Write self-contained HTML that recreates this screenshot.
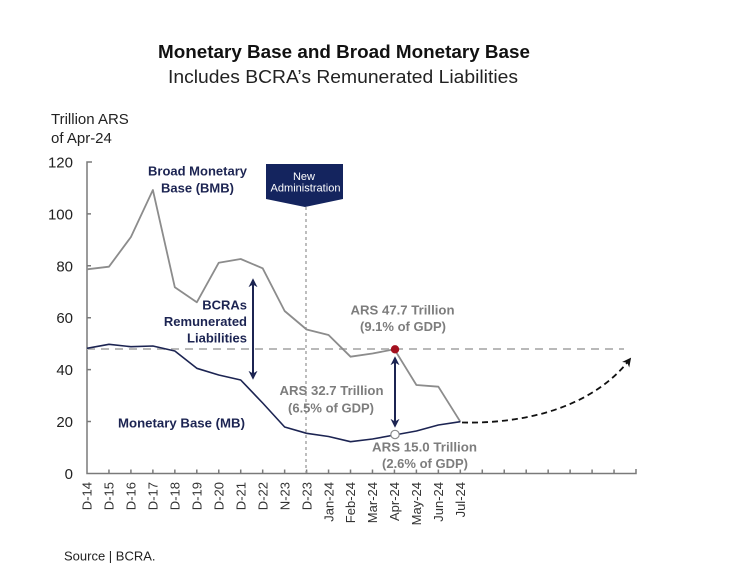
<!DOCTYPE html>
<html><head><meta charset="utf-8"><style>
html,body{margin:0;padding:0;background:#fff;}
svg{display:block;}
text{font-family:"Liberation Sans",Arial,sans-serif;}
</style></head><body>
<svg width="730" height="578" viewBox="0 0 730 578" xmlns="http://www.w3.org/2000/svg">
<defs>
<marker id="ah" viewBox="0 0 10 10" refX="8" refY="5" markerWidth="4.5" markerHeight="4.5" orient="auto-start-reverse">
<path d="M0,0 L10,5 L0,10 L3,5 Z" fill="#1c2452"/>
</marker>
<marker id="ah2" viewBox="0 0 10 10" refX="8" refY="5" markerWidth="5" markerHeight="5" orient="auto">
<path d="M0,0 L10,5 L0,10 L3,5 Z" fill="#111"/>
</marker>
</defs>
<rect width="730" height="578" fill="#fff"/>
<!-- Title -->
<text x="344" y="58" font-size="18" font-weight="bold" text-anchor="middle" fill="#111" textLength="372" lengthAdjust="spacingAndGlyphs">Monetary Base and Broad Monetary Base</text>
<text x="343" y="83" font-size="18" text-anchor="middle" fill="#222" textLength="350" lengthAdjust="spacingAndGlyphs">Includes BCRA’s  Remunerated Liabilities</text>
<!-- Y axis title -->
<text x="51" y="124" font-size="15" fill="#222">Trillion ARS</text>
<text x="51" y="143" font-size="15" fill="#222">of Apr-24</text>
<!-- Y tick labels -->
<g font-size="15" fill="#222" text-anchor="end">
<text x="73" y="167.5">120</text>
<text x="73" y="219.4">100</text>
<text x="73" y="271.3">80</text>
<text x="73" y="323.2">60</text>
<text x="73" y="375.1">40</text>
<text x="73" y="427">20</text>
<text x="73" y="478.9">0</text>
</g>
<!-- Axes -->
<g stroke="#7a7a7a" stroke-width="1.5" fill="none">
<path d="M92,162 L87,162 L87,473.5 L636,473.5 L636,469"/>
<path d="M87,213.9 h4 M87,265.8 h4 M87,317.7 h4 M87,369.6 h4 M87,421.5 h4"/>
<path d="M108.96,473.5 v-4 M130.92,473.5 v-4 M152.88,473.5 v-4 M174.84,473.5 v-4 M196.8,473.5 v-4 M218.76,473.5 v-4 M240.72,473.5 v-4 M262.68,473.5 v-4 M284.64,473.5 v-4 M306.6,473.5 v-4 M328.56,473.5 v-4 M350.52,473.5 v-4 M372.48,473.5 v-4 M394.44,473.5 v-4 M416.4,473.5 v-4 M438.36,473.5 v-4 M460.32,473.5 v-4 M482.28,473.5 v-4 M504.24,473.5 v-4 M526.2,473.5 v-4 M548.16,473.5 v-4 M570.12,473.5 v-4 M592.08,473.5 v-4 M614.04,473.5 v-4"/>
</g>
<!-- X labels -->
<g font-size="13" fill="#333" text-anchor="end">
<text transform="translate(91.7,482) rotate(-90)">D-14</text>
<text transform="translate(113.7,482) rotate(-90)">D-15</text>
<text transform="translate(135.6,482) rotate(-90)">D-16</text>
<text transform="translate(157.6,482) rotate(-90)">D-17</text>
<text transform="translate(179.5,482) rotate(-90)">D-18</text>
<text transform="translate(201.5,482) rotate(-90)">D-19</text>
<text transform="translate(223.5,482) rotate(-90)">D-20</text>
<text transform="translate(245.4,482) rotate(-90)">D-21</text>
<text transform="translate(267.4,482) rotate(-90)">D-22</text>
<text transform="translate(289.3,482) rotate(-90)">N-23</text>
<text transform="translate(311.3,482) rotate(-90)">D-23</text>
<text transform="translate(333.3,482) rotate(-90)">Jan-24</text>
<text transform="translate(355.2,482) rotate(-90)">Feb-24</text>
<text transform="translate(377.2,482) rotate(-90)">Mar-24</text>
<text transform="translate(399.1,482) rotate(-90)">Apr-24</text>
<text transform="translate(421.1,482) rotate(-90)">May-24</text>
<text transform="translate(443.1,482) rotate(-90)">Jun-24</text>
<text transform="translate(465,482) rotate(-90)">Jul-24</text>
</g>
<!-- reference lines -->
<line x1="87" y1="349" x2="624" y2="349" stroke="#b9b9b9" stroke-width="2" stroke-dasharray="8 6"/>
<line x1="306" y1="207" x2="306" y2="473" stroke="#9a9a9a" stroke-width="1.3" stroke-dasharray="3 3"/>
<!-- BMB gray line -->
<polyline fill="none" stroke="#8c8c8c" stroke-width="1.8" stroke-linejoin="round"
points="87,269.3 108.96,266.7 130.92,237 152.88,190 174.84,287.3 196.8,302.3 218.76,262.7 240.72,259 262.68,268.3 284.64,311 306.6,329.5 328.56,335 350.52,356.7 372.48,353.5 394.44,349.3 416.4,385 438.36,386.7 460.32,421.7"/>
<!-- MB navy line -->
<polyline fill="none" stroke="#1c2452" stroke-width="1.6" stroke-linejoin="round"
points="87,348.3 108.96,344.3 130.92,346.7 152.88,346 174.84,351 196.8,368.3 218.76,375 240.72,380 262.68,403 284.64,427 306.6,433.3 328.56,436.5 350.52,441.7 372.48,439 394.44,435 416.4,431 438.36,425 460.32,421.7"/>
<!-- projection -->
<path d="M462,422.5 C530,424 595,405 630,359" fill="none" stroke="#111" stroke-width="1.8" stroke-dasharray="6 4" marker-end="url(#ah2)"/>
<!-- arrows -->
<line x1="253" y1="280" x2="253" y2="378" stroke="#1c2452" stroke-width="2" marker-start="url(#ah)" marker-end="url(#ah)"/>
<line x1="395" y1="358" x2="395" y2="426" stroke="#1c2452" stroke-width="2" marker-start="url(#ah)" marker-end="url(#ah)"/>
<!-- points -->
<circle cx="395" cy="349.3" r="4.2" fill="#a3101e"/>
<circle cx="395" cy="434.5" r="4.2" fill="#fff" stroke="#8c8c8c" stroke-width="1.2"/>
<!-- New Administration -->
<path d="M266,164 L343,164 L343,199 L305,207 L266,199 Z" fill="#14245e"/>
<text x="304" y="180" font-size="11" fill="#fff" text-anchor="middle">New</text>
<text x="305.5" y="191.5" font-size="11" fill="#fff" text-anchor="middle" textLength="70" lengthAdjust="spacingAndGlyphs">Administration</text>
<!-- Labels -->
<g font-size="13" font-weight="bold" fill="#1c2452">
<text x="197.5" y="175.5" text-anchor="middle" textLength="99" lengthAdjust="spacingAndGlyphs">Broad Monetary</text>
<text x="197.5" y="192.5" text-anchor="middle">Base (BMB)</text>
<text x="247" y="309.5" text-anchor="end">BCRAs</text>
<text x="247" y="326" text-anchor="end">Remunerated</text>
<text x="247" y="342.5" text-anchor="end">Liabilities</text>
<text x="118" y="427.5" textLength="127" lengthAdjust="spacingAndGlyphs">Monetary Base (MB)</text>
</g>
<g font-size="13" font-weight="bold" fill="#7d7d7d" text-anchor="middle">
<text x="402.5" y="314.5" textLength="104" lengthAdjust="spacingAndGlyphs">ARS 47.7 Trillion</text>
<text x="403" y="331">(9.1% of GDP)</text>
<text x="331.5" y="395" textLength="104" lengthAdjust="spacingAndGlyphs">ARS 32.7 Trillion</text>
<text x="331" y="412.5">(6.5% of GDP)</text>
<text x="424.5" y="451.5" textLength="105" lengthAdjust="spacingAndGlyphs">ARS 15.0 Trillion</text>
<text x="425" y="468">(2.6% of GDP)</text>
</g>
<!-- Source -->
<text x="64" y="560.5" font-size="13" fill="#222">Source | BCRA.</text>
</svg>
</body></html>
